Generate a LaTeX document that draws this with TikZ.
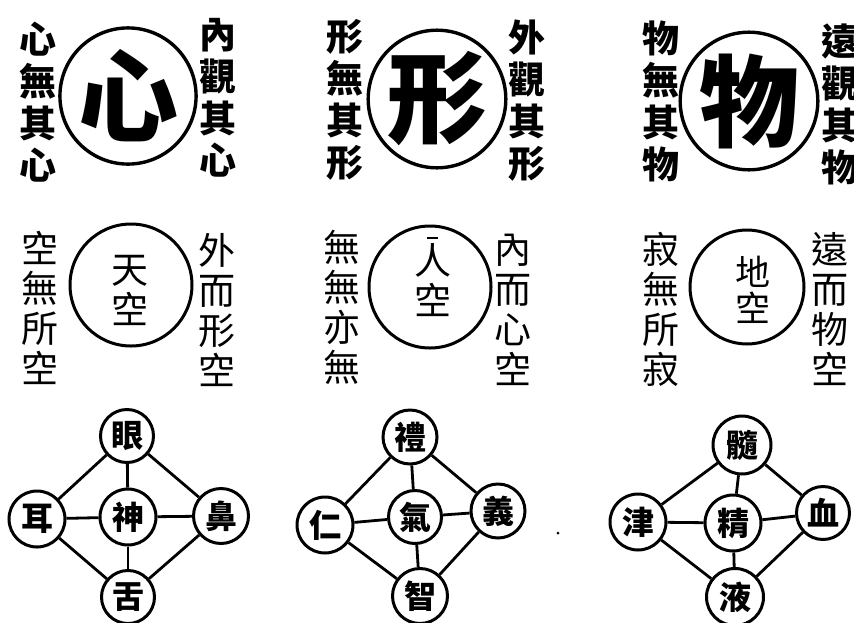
\documentclass[tikz,border=0pt]{standalone}
\usepackage{fontspec}
\newfontfamily\cj{Noto Sans CJK TC}
\begin{document}
\begin{tikzpicture}[x=1pt,y=-1pt,
  bigc/.style={circle,draw,line width=3.4pt,inner sep=0pt,font=\cj\bfseries\fontsize{100}{100}\selectfont},
  midc/.style={circle,draw,line width=3pt,inner sep=0pt},
  midt/.style={align=center,inner sep=0pt,font=\cj\fontsize{37}{40}\selectfont},
  colb/.style={align=center,inner sep=0pt,font=\cj\bfseries\fontsize{37}{42}\selectfont},
  colr/.style={align=center,inner sep=0pt,font=\cj\fontsize{37}{40}\selectfont},
  smc/.style={circle,draw,line width=3pt,inner sep=0pt,minimum size=53pt,font=\cj\bfseries\fontsize{32}{32}\selectfont},
  link/.style={line width=2.8pt}]
\useasboundingbox (0,0) rectangle (854,622);
\clip (0,0) rectangle (854,622);
\fill[white] (0,0) rectangle (854,622);
% ---- top row
\node[bigc,minimum size=126pt] (xin) at (128,96) {心};
\node[colb] (xinL) at (38,102) {心\\無\\其\\心};
\node[colb] (xinR) at (218,98) {內\\觀\\其\\心};
\node[bigc,minimum size=126pt] (xing) at (437,99) {形};
\node[colb] (xingL) at (345,100) {形\\無\\其\\形};
\node[colb] (xingR) at (527,101) {外\\觀\\其\\形};
\node[bigc,minimum size=124pt] (wu) at (749,101) {物};
\node[colb] (wuL) at (661,101) {物\\無\\其\\物};
\node[colb] (wuR) at (840,104) {遠\\觀\\其\\物};
% ---- middle row
\node[midc,minimum size=122pt] (tian) at (131,285) {};
\node[midt] (tianT) at (130,290) {天\\空};
\node[colr] (tianL) at (40,308) {空\\無\\所\\空};
\node[colr] (tianR) at (217,310) {外\\而\\形\\空};
\node[midc,minimum size=122pt] (ren) at (430,287) {};
\node[midt] (renT) at (433,280) {人\\空};
\coordinate (mkA) at (427,238);
\coordinate (mkB) at (438,238);
\draw[line width=1.2pt] (mkA) -- (mkB);
\node[colr] (renL) at (342,307) {無\\無\\亦\\無};
\node[colr] (renR) at (513,310) {內\\而\\心\\空};
\node[midc,minimum size=114pt] (di) at (747,287) {};
\node[midt,font=\cj\fontsize{35}{36}\selectfont] (diT) at (753,290) {地\\空};
\node[colr] (diL) at (661,309) {寂\\無\\所\\寂};
\node[colr] (diR) at (830,309) {遠\\而\\物\\空};
% ---- bottom row: group 1
\node[smc] (a1) at (127,436) {眼};
\node[smc,minimum size=56pt] (a2) at (37,519) {耳};
\node[smc,minimum size=56pt] (a0) at (128,517) {神};
\node[smc,minimum size=55pt] (a3) at (221,516) {鼻};
\node[smc] (a4) at (128,597) {舌};
% group 2
\node[smc,minimum size=54pt] (b1) at (410,437) {禮};
\node[smc,minimum size=56pt] (b2) at (325,525) {仁};
\node[smc] (b0) at (415,517) {氣};
\node[smc,minimum size=54pt] (b3) at (498,511) {義};
\node[smc,minimum size=55pt] (b4) at (420,596) {智};
% group 3
\node[smc,minimum size=58pt] (c1) at (742,445) {髓};
\node[smc,minimum size=56pt] (c2) at (638,522) {津};
\node[smc,minimum size=56pt] (c0) at (733,523) {精};
\node[smc] (c3) at (823,513) {血};
\node[smc,minimum size=57pt] (c4) at (735,597) {液};
\foreach \g in {a,b,c}{
  \draw[link] (\g1) -- (\g0);
  \draw[link] (\g2) -- (\g0);
  \draw[link] (\g3) -- (\g0);
  \draw[link] (\g4) -- (\g0);
  \draw[link] (\g1) -- (\g2);
  \draw[link] (\g1) -- (\g3);
  \draw[link] (\g2) -- (\g4);
  \draw[link] (\g3) -- (\g4);
}
\node[circle,fill,inner sep=0pt,minimum size=3pt] (dot) at (558,533) {};
\end{tikzpicture}
\end{document}
